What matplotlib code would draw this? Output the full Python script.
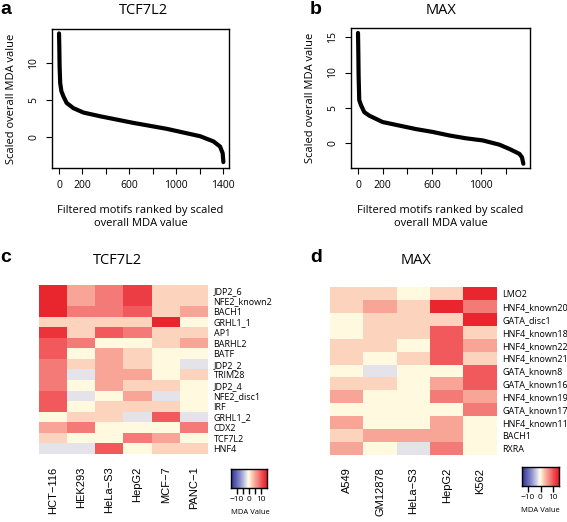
import numpy as np
import matplotlib
matplotlib.use("Agg")
import matplotlib.pyplot as plt
from matplotlib.colors import LinearSegmentedColormap

plt.rcParams["font.family"] = ["Open Sans", "DejaVu Sans"]

tcf_rank = [0, 2, 5, 10, 20, 37, 65, 122, 208, 350, 492, 635, 777, 919, 1061,
            1204, 1318, 1375, 1397, 1403]
tcf_mda = [14.0, 12.5, 9.5, 7.3, 6.2, 5.5, 4.6, 3.9, 3.3, 2.8, 2.35, 1.9, 1.5,
           1.1, 0.6, 0.1, -0.6, -1.3, -2.2, -3.4]
max_rank = [0, 2, 5, 10, 24, 51, 92, 200, 336, 472, 607, 743, 878, 1014, 1149,
            1230, 1312, 1333, 1344]
max_mda = [15.6, 13.5, 9.5, 6.1, 5.4, 4.4, 3.9, 3.0, 2.5, 2.0, 1.6, 1.1, 0.7,
           0.4, -0.2, -0.8, -1.5, -2.0, -2.9]

# heatmap c
tcf_cells = ["HCT\u2212116", "HEK293", "HeLa\u2212S3", "HepG2", "MCF\u22127", "PANC\u22121"]
tcf_motifs = ["JDP2_6", "NFE2_known2", "BACH1", "GRHL1_1", "AP1", "BARHL2", "BATF",
              "JDP2_2", "TRIM28", "JDP2_4", "NFE2_disc1", "IRF", "GRHL1_2", "CDX2",
              "TCF7L2", "HNF4"]
tcf_vals = [
    [14, 5, 8, 12, 2, 2],
    [14, 5, 8, 12, 2, 2],
    [14, 8, 8, 10, 2, 5],
    [2, 2, 2, 2, 14, 0],
    [13, 2, 10, 8, 2, 2],
    [10, 8, 0, 0, 2, 5],
    [10, 0, 5, 2, 0, 0],
    [8, 2, 5, 2, 0, -2],
    [8, -2, 5, 5, 0, 2],
    [8, 0, 5, 2, 2, 0],
    [10, -2, 0, 5, -2, 0],
    [10, 0, 2, 2, 2, 0],
    [0, 2, 2, -2, 10, -2],
    [5, 8, 0, 0, 0, 8],
    [2, 0, 0, 8, 5, 0],
    [-2, -2, 10, 0, 2, 2],
]

# heatmap d
max_cells = ["A549", "GM12878", "HeLa\u2212S3", "HepG2", "K562"]
max_motifs = ["LMO2", "HNF4_known20", "GATA_disc1", "HNF4_known18", "HNF4_known22",
              "HNF4_known21", "GATA_known8", "GATA_known16", "HNF4_known19",
              "GATA_known17", "HNF4_known11", "BACH1", "RXRA"]
max_vals = [
    [2, 2, 0, 2, 14],
    [2, 5, 2, 14, 8],
    [0, 2, 2, 2, 14],
    [0, 2, 2, 10, 2],
    [2, 2, 0, 10, 5],
    [2, 0, 2, 10, 2],
    [0, -2, 0, 0, 10],
    [2, 2, 0, 5, 10],
    [5, 0, 0, 8, 5],
    [0, 0, 0, 0, 8],
    [5, 0, 0, 5, 0],
    [2, 5, 5, 5, 0],
    [5, 0, -2, 8, 0],
]

vmin, vmax = -15, 15
stops = [(-15, "#2c2f96"), (-8, "#7f86c6"), (-2.5, "#dcdbe8"), (-1, "#fbf8f0"),
         (0, "#fffbe0"), (2, "#fdd5be"), (5, "#f8a496"), (8, "#f47b77"),
         (11, "#f04a50"), (15, "#e81c24")]
cmap = LinearSegmentedColormap.from_list(
    "mda", [((v - vmin) / (vmax - vmin), c) for v, c in stops])

fig = plt.figure(figsize=(5.67, 5.22), dpi=100)
W, H = 567.0, 522.0


def box(x0, y0, x1, y1):
    return [x0 / W, 1 - y1 / H, (x1 - x0) / W, (y1 - y0) / H]


def curve_panel(rect, xs, ys, ylim, xlim, xticks, xlabels, yticks):
    ax = fig.add_axes(rect)
    ax.plot(xs, ys, color="black", lw=3, solid_capstyle="round")
    ax.set_xlim(*xlim)
    ax.set_ylim(*ylim)
    ax.set_xticks(xticks)
    ax.set_xticklabels(xlabels, fontsize=7.5)
    ax.set_yticks(yticks)
    ax.set_yticklabels([str(t) for t in yticks], fontsize=7.5, rotation=90, va="center")
    ax.tick_params(direction="out", length=4, width=0.8, pad=5)
    for s in ax.spines.values():
        s.set_linewidth(1.0)
    ax.set_xlabel("Filtered motifs ranked by scaled\noverall MDA value", fontsize=8,
                  labelpad=10, linespacing=1.15)
    ax.set_ylabel("Scaled overall MDA value", fontsize=8, labelpad=8)
    return ax


curve_panel(box(52, 29, 229, 168), tcf_rank, tcf_mda, (-4.2, 14.6), (-60, 1451),
            [0, 200, 400, 600, 800, 1000, 1200, 1400],
            ["0", "200", "", "600", "", "1000", "", "1400"], [0, 5, 10])
curve_panel(box(351, 28, 530, 168), max_rank, max_mda, (-3.5, 16.3), (-57, 1398),
            [0, 200, 400, 600, 800, 1000, 1200],
            ["0", "200", "", "600", "", "1000", ""], [0, 5, 10, 15])


def heat_panel(rect, vals, rows, cols):
    ax = fig.add_axes(rect)
    ax.imshow(np.array(vals), cmap=cmap, vmin=vmin, vmax=vmax, aspect="auto",
              interpolation="nearest")
    ax.set_xticks(range(len(cols)))
    ax.set_xticklabels(cols, rotation=90, fontsize=8, va="top",
                       family=["Liberation Sans", "DejaVu Sans"])
    ax.set_yticks(range(len(rows)))
    ax.set_yticklabels(rows, fontsize=6.5)
    ax.yaxis.tick_right()
    ax.tick_params(length=0)
    ax.tick_params(axis="x", pad=9)
    ax.tick_params(axis="y", pad=4)
    for s in ax.spines.values():
        s.set_visible(False)
    return ax


def key(rect, ticks, labx, laby):
    cax = fig.add_axes(rect)
    grad = np.linspace(vmin, vmax, 256).reshape(1, -1)
    cax.imshow(grad, cmap=cmap, vmin=vmin, vmax=vmax, aspect="auto",
               extent=[vmin, vmax, 0, 1])
    cax.set_yticks([])
    cax.set_xticks(ticks)
    cax.set_xticklabels([("\u221210" if t == -10 else "0" if t == 0 else "10") if t in (-10, 0, 10) else ""
                         for t in ticks], fontsize=6)
    cax.tick_params(axis="x", length=4, width=1.0, pad=1.5)
    for s in cax.spines.values():
        s.set_linewidth(1.0)
    fig.text(labx / W, 1 - laby / H, "MDA Value", fontsize=5.5, ha="center", va="center")


heat_panel(box(39, 285, 208, 454), tcf_vals, tcf_motifs, tcf_cells)
heat_panel(box(330, 287, 497, 455), max_vals, max_motifs, max_cells)
key(box(231, 469, 267, 488), [-10, -5, 0, 5, 10], 250, 513)
key(box(522, 467, 559, 486), [-10, 0, 10], 540, 511)

# titles and panel letters
fig.text(143 / W, 1 - 11 / H, "TCF7L2", fontsize=10.5, ha="center", va="center")
fig.text(441 / W, 1 - 11 / H, "MAX", fontsize=10.5, ha="center", va="center")
fig.text(117 / W, 1 - 260 / H, "TCF7L2", fontsize=10.5, ha="center", va="center")
fig.text(416 / W, 1 - 260 / H, "MAX", fontsize=10.5, ha="center", va="center")
for lab, x, y in [("a", 6, 10), ("b", 316, 10), ("c", 6, 258), ("d", 316, 258)]:
    fig.text(x / W, 1 - y / H, lab, fontsize=14, fontweight="bold", ha="center",
             va="center", family=["Liberation Sans", "DejaVu Sans"])

fig.savefig("out.png", dpi=100)
